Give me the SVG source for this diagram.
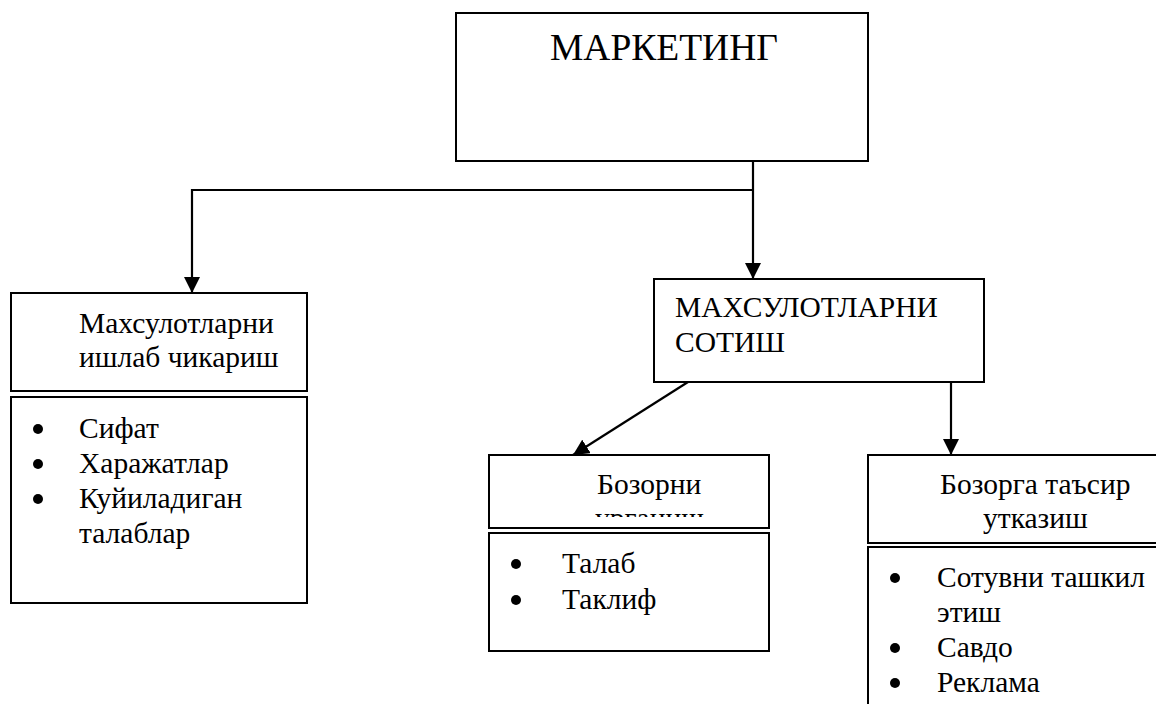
<svg xmlns="http://www.w3.org/2000/svg" width="1156" height="704" viewBox="0 0 1156 704">
<style>
.box{fill:#fff;stroke:#000;stroke-width:2}
.t{font-family:"Liberation Serif","Times New Roman",serif;font-size:29.5px;fill:#000}
.big{font-family:"Liberation Serif","Times New Roman",serif;font-size:37.5px;fill:#000}
.c{fill:none;stroke:#000;stroke-width:2.2}
.dot{fill:#000}
</style>
<defs>
<marker id="arr" markerUnits="userSpaceOnUse" markerWidth="16" markerHeight="16" viewBox="0 0 16 16" refX="16" refY="8" orient="auto">
<path d="M0,0 L16,8 L0,16 Z" fill="#000"/>
</marker>
<clipPath id="clipB"><rect x="489" y="455" width="280" height="62"/></clipPath>
</defs>
<rect width="1156" height="704" fill="#fff"/>
<g id="connectors">
<polyline class="c" points="753,190 192,190 192,293" marker-end="url(#arr)"/>
<line class="c" x1="753" y1="161" x2="753" y2="279" marker-end="url(#arr)"/>
<line class="c" x1="688" y1="382" x2="573" y2="455" marker-end="url(#arr)"/>
<line class="c" x1="951" y1="382" x2="951" y2="455" marker-end="url(#arr)"/>
</g>
<g id="marketing">
<rect class="box" x="456" y="13" width="412" height="148"/>
<text class="big" x="550" y="60">МАРКЕТИНГ</text>
</g>
<g id="production">
<rect class="box" x="11" y="293" width="296" height="98"/>
<text class="t" x="79" y="333">Махсулотларни</text>
<text class="t" x="79" y="367">ишлаб чикариш</text>
</g>
<g id="production-list">
<rect class="box" x="11" y="397" width="296" height="206"/>
<circle class="dot" cx="38" cy="429" r="5"/>
<circle class="dot" cx="38" cy="464" r="5"/>
<circle class="dot" cx="38" cy="499" r="5"/>
<text class="t" x="79" y="438">Сифат</text>
<text class="t" x="79" y="473">Харажатлар</text>
<text class="t" x="79" y="508">Куйиладиган</text>
<text class="t" x="79" y="543">талаблар</text>
</g>
<g id="sales">
<rect class="box" x="654" y="279" width="330" height="103"/>
<text class="t" x="675" y="317">МАХСУЛОТЛАРНИ</text>
<text class="t" x="675" y="352">СОТИШ</text>
</g>
<g id="market-study">
<rect class="box" x="489" y="455" width="280" height="73"/>
<g clip-path="url(#clipB)">
<text class="t" x="597" y="494">Бозорни</text>
<text class="t" x="595" y="528">урганиш</text>
</g>
</g>
<g id="market-study-list">
<rect class="box" x="489" y="533" width="280" height="118"/>
<circle class="dot" cx="516" cy="564" r="5"/>
<circle class="dot" cx="516" cy="600" r="5"/>
<text class="t" x="562" y="573">Талаб</text>
<text class="t" x="562" y="609">Таклиф</text>
</g>
<g id="market-influence">
<rect class="box" x="868" y="455" width="320" height="88"/>
<text class="t" x="940" y="494">Бозорга таъсир</text>
<text class="t" x="983" y="528">утказиш</text>
</g>
<g id="market-influence-list">
<rect class="box" x="868" y="547" width="320" height="200"/>
<circle class="dot" cx="895" cy="578" r="5"/>
<circle class="dot" cx="895" cy="648" r="5"/>
<circle class="dot" cx="895" cy="683" r="5"/>
<text class="t" x="937" y="587">Сотувни ташкил</text>
<text class="t" x="937" y="622">этиш</text>
<text class="t" x="937" y="657">Савдо</text>
<text class="t" x="937" y="692">Реклама</text>
</g>
</svg>
